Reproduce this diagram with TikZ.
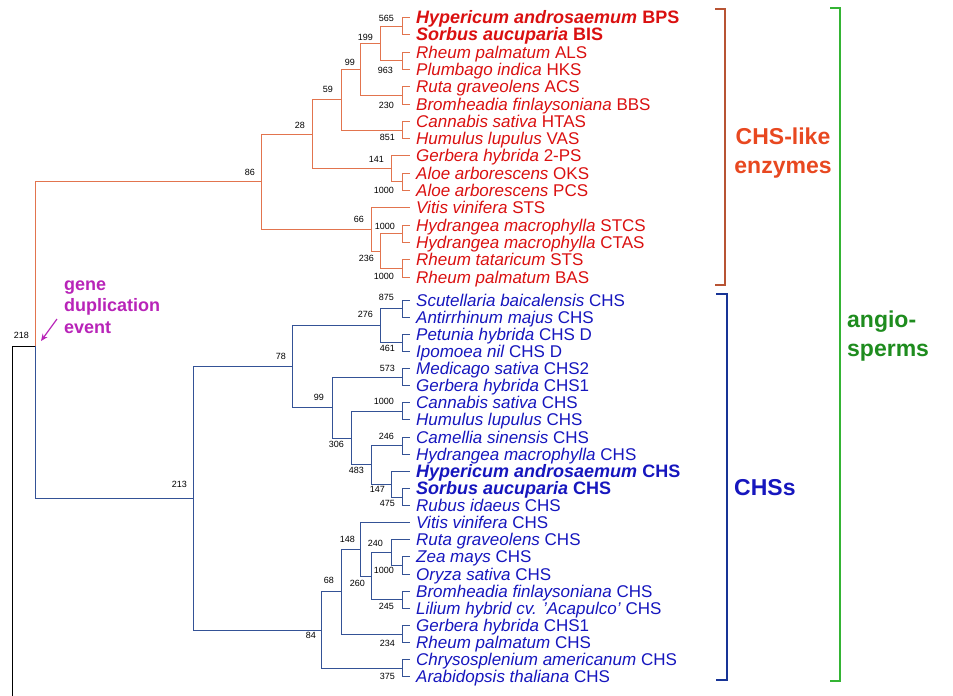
\documentclass[tikz,border=0pt]{standalone}
\usepackage{fontspec}
\setmainfont{Liberation Sans}
\usepackage{tikz}
\usetikzlibrary{arrows.meta}

\definecolor{leafred}{RGB}{218,16,16}
\definecolor{leafblue}{RGB}{22,22,190}
\definecolor{branchred}{RGB}{226,116,78}
\definecolor{branchblue}{RGB}{52,82,150}
\definecolor{brackred}{RGB}{184,84,52}
\definecolor{brackblue}{RGB}{24,52,150}
\definecolor{brackgreen}{RGB}{52,180,52}
\definecolor{labred}{RGB}{232,72,32}
\definecolor{labgreen}{RGB}{30,140,30}
\definecolor{dupl}{RGB}{184,36,184}

\tikzset{
    leaf/.style={anchor=west, inner sep=0pt, text height=12pt, text depth=0pt,
        font=\fontsize{17}{17}\selectfont},
    leafbold/.style={leaf, font=\fontsize{18}{18}\selectfont\bfseries},
    bstrap/.style={anchor=east, inner sep=0pt, text height=6.5pt, text depth=0pt,
        font=\fontsize{9}{9}\selectfont},
    branch/.style={line width=1pt},
    tostub/.style={branch, shorten >=6pt},
    bracket/.style={line width=1.8pt},
    groupname/.style={font=\fontsize{23}{29}\selectfont\bfseries, inner sep=0pt}
}

\begin{document}
\begin{tikzpicture}[x=1pt, y=-1pt]
    \useasboundingbox (0,0) rectangle (953,696);

    % leaves of the CHS-like clade
    \foreach \sp/\gn/\sty [count=\i] in {
        Hypericum androsaemum/BPS/leafbold, Sorbus aucuparia/BIS/leafbold,
        Rheum palmatum/ALS/leaf, Plumbago indica/HKS/leaf,
        Ruta graveolens/ACS/leaf, Bromheadia finlaysoniana/BBS/leaf,
        Cannabis sativa/HTAS/leaf, Humulus lupulus/VAS/leaf,
        Gerbera hybrida/2-PS/leaf, Aloe arborescens/OKS/leaf,
        Aloe arborescens/PCS/leaf, Vitis vinifera/STS/leaf,
        Hydrangea macrophylla/STCS/leaf, Hydrangea macrophylla/CTAS/leaf,
        Rheum tataricum/STS/leaf, Rheum palmatum/BAS/leaf} {
        \pgfmathsetmacro\ly{17.5+17.3*(\i-1)}
        \node[\sty, text=leafred] (r\i) at (416,\ly) {\textit{\sp} \gn};
    }

    % leaves of the CHS clade
    \foreach \sp/\gn/\sty [count=\i] in {
        Scutellaria baicalensis/CHS/leaf, Antirrhinum majus/CHS/leaf,
        Petunia hybrida/CHS D/leaf, Ipomoea nil/CHS D/leaf,
        Medicago sativa/CHS2/leaf, Gerbera hybrida/CHS1/leaf,
        Cannabis sativa/CHS/leaf, Humulus lupulus/CHS/leaf,
        Camellia sinensis/CHS/leaf, Hydrangea macrophylla/CHS/leaf,
        Hypericum androsaemum/CHS/leafbold, Sorbus aucuparia/CHS/leafbold,
        Rubus idaeus/CHS/leaf, Vitis vinifera/CHS/leaf,
        Ruta graveolens/CHS/leaf, Zea mays/CHS/leaf,
        Oryza sativa/CHS/leaf, Bromheadia finlaysoniana/CHS/leaf,
        Lilium hybrid cv. 'Acapulco'/CHS/leaf, Gerbera hybrida/CHS1/leaf,
        Rheum palmatum/CHS/leaf, Chrysosplenium americanum/CHS/leaf,
        Arabidopsis thaliana/CHS/leaf} {
        \pgfmathsetmacro\ly{300+17.13*(\i-1)}
        \node[\sty, text=leafblue] (b\i) at (416,\ly) {\textit{\sp} \gn};
    }

    % inner nodes, CHS-like enzymes
    \coordinate (pBPS) at (402,26.2);
    \coordinate (pALS) at (402,60.8);
    \coordinate (pACS) at (402,95.4);
    \coordinate (pHTAS) at (402,130.0);
    \coordinate (pOKS) at (402,181.9);
    \coordinate (pSTCS) at (402,233.8);
    \coordinate (pBAS) at (402,268.4);
    \coordinate (n199) at (380,43.5);
    \coordinate (n99r) at (360,69.4);
    \coordinate (n59) at (341,99.7);
    \coordinate (n141) at (391,168.9);
    \coordinate (n28) at (312,134.3);
    \coordinate (n236) at (380,251.1);
    \coordinate (n66) at (371,229.5);
    \coordinate (n86) at (261,181.9);

    % inner nodes, CHSs
    \coordinate (pSCU) at (402,308.6);
    \coordinate (pPET) at (402,342.9);
    \coordinate (pMED) at (402,377.1);
    \coordinate (pCAN) at (402,411.4);
    \coordinate (pCAM) at (402,445.6);
    \coordinate (pSOR) at (402,497.0);
    \coordinate (pZEA) at (402,565.5);
    \coordinate (pBRO) at (402,599.8);
    \coordinate (pGER) at (402,634.0);
    \coordinate (pCHR) at (402,668.3);
    \coordinate (n276) at (380,325.7);
    \coordinate (n147) at (391,484.2);
    \coordinate (n483) at (371,464.9);
    \coordinate (n306) at (351,438.1);
    \coordinate (n99b) at (332,407.6);
    \coordinate (n78) at (292,366.7);
    \coordinate (n240) at (391,552.7);
    \coordinate (n260) at (371,576.2);
    \coordinate (n148) at (360,549.5);
    \coordinate (n68) at (341,591.8);
    \coordinate (n84) at (321,630.0);
    \coordinate (n213) at (193,498.4);

    % root
    \coordinate (n218) at (35,346);
    \coordinate (rootend) at (12,696);
    \draw[branch] (rootend) |- (n218);
    \draw[branch, branchred] (n218) |- (n86);
    \draw[branch, branchblue] (n218) |- (n213);

    % branches, CHS-like enzymes
    \foreach \p/\c in {n86/n28, n86/n66, n28/n59, n28/n141, n59/n99r, n59/pHTAS,
        n99r/n199, n99r/pACS, n199/pBPS, n199/pALS, n141/pOKS, n66/n236,
        n236/pSTCS, n236/pBAS}
        \draw[branch, branchred] (\p) |- (\c);
    \foreach \p/\c in {pBPS/1, pBPS/2, pALS/3, pALS/4, pACS/5, pACS/6, pHTAS/7,
        pHTAS/8, n141/9, pOKS/10, pOKS/11, n66/12, pSTCS/13, pSTCS/14,
        pBAS/15, pBAS/16}
        \draw[tostub, branchred] (\p) |- (r\c.west);

    % branches, CHSs
    \foreach \p/\c in {n213/n78, n213/n84, n78/n276, n78/n99b, n276/pSCU,
        n276/pPET, n99b/pMED, n99b/n306, n306/pCAN, n306/n483, n483/pCAM,
        n483/n147, n147/pSOR, n84/n68, n84/pCHR, n68/n148, n68/pGER,
        n148/n260, n260/n240, n260/pBRO, n240/pZEA}
        \draw[branch, branchblue] (\p) |- (\c);
    \foreach \p/\c in {pSCU/1, pSCU/2, pPET/3, pPET/4, pMED/5, pMED/6, pCAN/7,
        pCAN/8, pCAM/9, pCAM/10, n147/11, pSOR/12, pSOR/13, n148/14, n240/15,
        pZEA/16, pZEA/17, pBRO/18, pBRO/19, pGER/20, pGER/21, pCHR/22, pCHR/23}
        \draw[tostub, branchblue] (\p) |- (b\c.west);

    % bootstrap values
    \foreach \v/\x/\y [count=\i] in {565/394/18, 199/373/37, 99/355/62,
        963/393/70, 59/333/89, 230/394/105, 28/305/125, 851/395/137,
        141/384/159, 86/255/172, 1000/394/190, 66/364/219, 1000/395/226,
        236/374/258, 1000/394/276, 875/394/297, 276/373/314, 218/29/335,
        461/395/348, 78/286/356, 573/395/368, 99/324/397, 1000/394/401,
        246/394/436, 306/344/444, 483/364/470, 213/187/484, 147/385/489,
        475/395/503, 148/355/539, 240/383/543, 1000/394/570, 68/334/580,
        260/365/583, 245/394/606, 84/316/635, 234/395/643, 375/395/676}
        \node[bstrap] (bs\i) at (\x,\y) {\v};

    % gene duplication
    \node[font=\fontsize{18}{21.5}\selectfont\bfseries, text=dupl, align=left,
        anchor=west, inner sep=0pt] (dup) at (64,307) {gene\\duplication\\event};
    \coordinate (duptail) at (57,319);
    \coordinate (duphead) at (41,341);
    \draw[dupl, line width=1.2pt, -{Stealth[length=7pt, width=6pt]}] (duptail) -- (duphead);

    % brackets
    \coordinate (redtop) at (715,9);
    \coordinate (redbot) at (715,285);
    \draw[bracket, brackred] (redtop) -- ++(10,0) |- (redbot);
    \coordinate (bluetop) at (716,294);
    \coordinate (bluebot) at (716,680);
    \draw[bracket, brackblue] (bluetop) -- ++(11,0) |- (bluebot);
    \coordinate (greentop) at (830,8);
    \coordinate (greenbot) at (830,681);
    \draw[bracket, brackgreen] (greentop) -- ++(10,0) |- (greenbot);

    \node[groupname, text=labred, align=center] (chslike) at (783,153) {CHS-like\\enzymes};
    \node[groupname, text=leafblue, anchor=west] (chss) at (734,488) {CHSs};
    \node[groupname, text=labgreen, align=left, anchor=west] (angio) at (847,336) {angio-\\sperms};
\end{tikzpicture}
\end{document}
